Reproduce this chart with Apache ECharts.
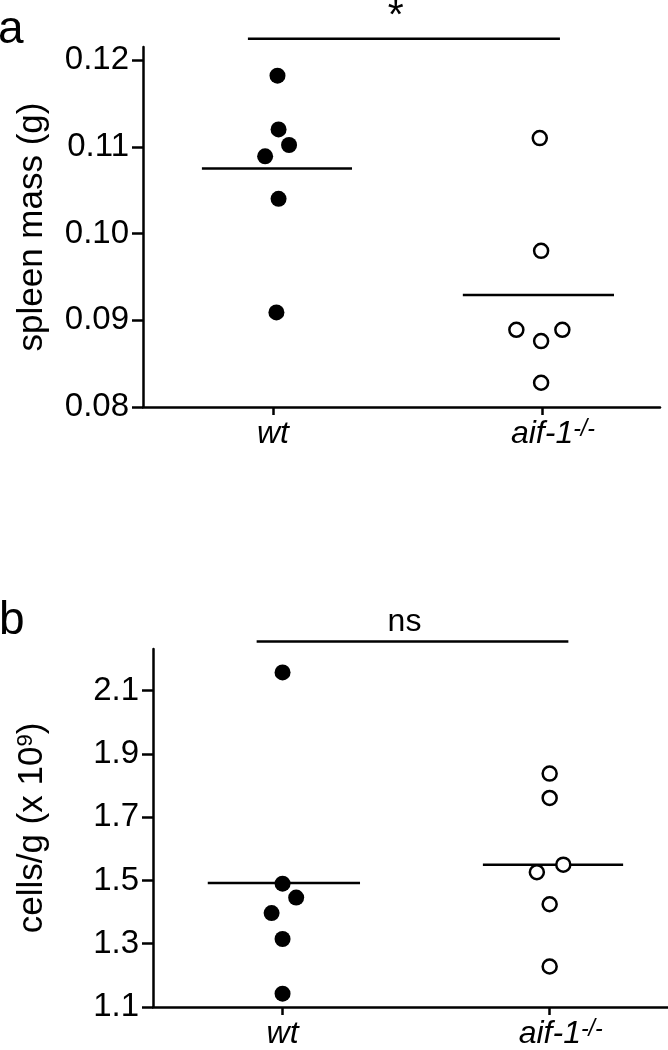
<!DOCTYPE html>
<html>
<head>
<meta charset="utf-8">
<script src="https://cdn.jsdelivr.net/npm/echarts@6/dist/echarts.min.js"></script>
<style>
  html, body { margin: 0; padding: 0; background: #fff; }
  #chart { width: 668px; height: 1050px; }
</style>
</head>
<body>
<div id="chart"></div>
<script>
// panel a: spleen mass (g)
const massWt = [0.1182, 0.1120, 0.1102, 0.1089, 0.1040, 0.0909];
const massWtJitter = [0.017, 0.021, 0.060, -0.029, 0.021, 0.013];
const massAif = [0.1110, 0.0980, 0.0889, 0.0889, 0.0876, 0.0828];
const massAifJitter = [-0.008, -0.003, -0.095, 0.076, -0.003, -0.003];
const massMeans = [0.1075, 0.0929];
const massTicks = [0.08, 0.09, 0.10, 0.11, 0.12];
const massSigLevel = 0.12246;

// panel b: cells/g (x 10^9)
const cellsWt = [2.158, 1.490, 1.446, 1.397, 1.315, 1.142];
const cellsWtJitter = [0, 0, 0.051, -0.041, 0, 0];
const cellsAif = [1.838, 1.761, 1.550, 1.526, 1.425, 1.228];
const cellsAifJitter = [0, 0, 0.051, -0.048, 0, 0];
const cellsMeans = [1.492, 1.550];
const cellsTicks = [1.1, 1.3, 1.5, 1.7, 1.9, 2.1];
const cellsSigLevel = 2.256;

const groups = [1, 2]; // wt, aif-1-/-
const font = '"Liberation Sans", Arial, Helvetica, sans-serif';
const black = '#000';

function points(vals, jit, g) {
  return vals.map((v, i) => [g + jit[i], v]);
}

function xAxisFor(gi, min, max) {
  return {
    type: 'value', gridIndex: gi, min: min, max: max,
    splitLine: { show: false },
    axisLine: { lineStyle: { color: black, width: 2.5 } },
    axisTick: { customValues: groups, length: 8, lineStyle: { color: black, width: 2.5 } },
    axisLabel: {
      customValues: groups,
      margin: 11,
      formatter: v => v === 1 ? '{it|wt}' : '{pad|}{it|aif-1}{sup|-/-}',
      rich: {
        it: { fontFamily: font, fontStyle: 'italic', fontSize: 32, color: black },
        sup: { fontFamily: font, fontStyle: 'italic', fontSize: 23, color: black, verticalAlign: 'top' },
        pad: { width: 22 }
      }
    }
  };
}

function yAxisFor(gi, min, max, ticks, digits, name, gap) {
  return {
    type: 'value', gridIndex: gi, min: min, max: max,
    splitLine: { show: false },
    axisLine: { show: true, lineStyle: { color: black, width: 2.5 } },
    axisTick: { show: true, customValues: ticks, length: 11, lineStyle: { color: black, width: 2.5 } },
    axisLabel: {
      customValues: ticks, margin: 14,
      fontFamily: font, fontSize: 33, color: black,
      formatter: v => v.toFixed(digits)
    },
    name: name,
    nameLocation: 'middle',
    nameRotate: 90,
    nameGap: gap,
    nameMoveOverlap: false,
    nameTextStyle: {
      fontFamily: font, fontSize: 35, color: black,
      rich: { sup: { fontFamily: font, fontSize: 22, color: black, verticalAlign: 'top' } }
    }
  };
}

function meanLine(gi, x0, x1, m) {
  return {
    type: 'line', xAxisIndex: gi, yAxisIndex: gi, silent: true,
    symbol: 'none', z: 2,
    lineStyle: { color: black, width: 2.5 },
    data: [[x0, m], [x1, m]]
  };
}

function sigBar(gi, x0, x1, lvl, txt, dist, size) {
  return [
    {
      type: 'line', xAxisIndex: gi, yAxisIndex: gi, silent: true, clip: false,
      symbol: 'none', lineStyle: { color: black, width: 2.5 },
      data: [[x0, lvl], [x1, lvl]]
    },
    {
      type: 'scatter', xAxisIndex: gi, yAxisIndex: gi, silent: true, clip: false,
      symbolSize: 1, itemStyle: { color: 'rgba(0,0,0,0)', opacity: 1 },
      label: {
        show: true, position: 'top', distance: dist, formatter: txt,
        fontFamily: font, fontSize: size, color: black, opacity: 1
      },
      data: [[(x0 + x1) / 2 - 0.03, lvl]]
    }
  ];
}

function dots(gi, data, filled) {
  return {
    type: 'scatter', xAxisIndex: gi, yAxisIndex: gi, z: 5,
    symbol: 'circle',
    symbolSize: filled ? 16 : 14,
    itemStyle: filled
      ? { color: black, opacity: 1 }
      : { color: '#fff', borderColor: black, borderWidth: 2.5, opacity: 1 },
    data: data
  };
}

const option = {
  backgroundColor: '#fff',
  animation: false,
  title: [
    { text: 'a', left: -2, top: 7, padding: 0,
      textStyle: { fontFamily: font, fontSize: 46, fontWeight: 'normal', color: black } },
    { text: 'b', left: -1, top: 598, padding: 0,
      textStyle: { fontFamily: font, fontSize: 46, fontWeight: 'normal', color: black } }
  ],
  grid: [
    { left: 143, right: 8, top: 47, height: 360 },
    { left: 153, right: 0, top: 649, height: 360 }
  ],
  xAxis: [
    xAxisFor(0, 0.517, 2.439),
    xAxisFor(1, 0.515, 2.443)
  ],
  yAxis: [
    yAxisFor(0, 0.08, 0.1215, massTicks, 2, 'spleen mass (g)', 93),
    yAxisFor(1, 1.1, 2.232, cellsTicks, 1, 'cells/g (x 10{sup|9})', 103)
  ],
  series: [
    meanLine(0, 0.736, 1.294, massMeans[0]),
    meanLine(0, 1.706, 2.268, massMeans[1]),
    ...sigBar(0, 0.907, 2.067, massSigLevel, '*', 1, 41),
    dots(0, points(massWt, massWtJitter, groups[0]), true),
    dots(0, points(massAif, massAifJitter, groups[1]), false),

    meanLine(1, 0.72, 1.29, cellsMeans[0]),
    meanLine(1, 1.75, 2.275, cellsMeans[1]),
    ...sigBar(1, 0.903, 2.07, cellsSigLevel, 'ns', 3, 32),
    dots(1, points(cellsWt, cellsWtJitter, groups[0]), true),
    dots(1, points(cellsAif, cellsAifJitter, groups[1]), false)
  ]
};

const chart = echarts.init(document.getElementById('chart'), null, { renderer: 'canvas' });
chart.setOption(option);
</script>
</body>
</html>
